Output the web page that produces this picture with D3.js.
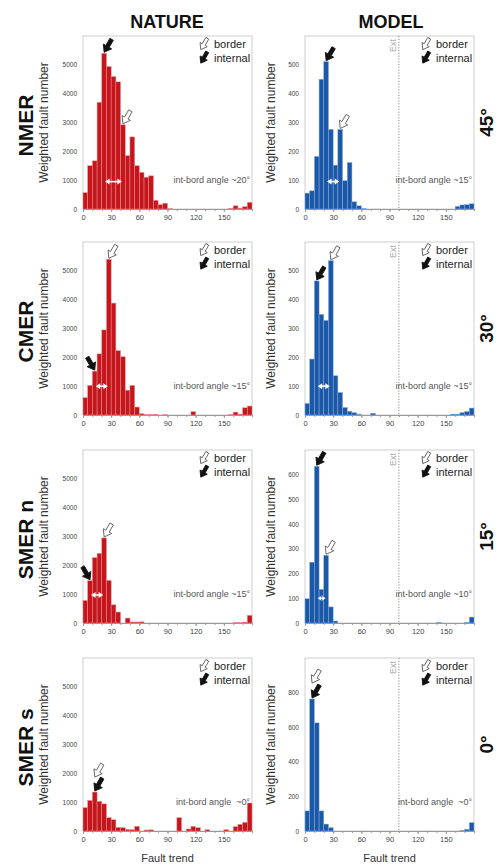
<!DOCTYPE html>
<html>
<head>
<meta charset="utf-8">
<script src="https://cdn.jsdelivr.net/npm/d3@7"></script>
<style>
body { margin: 0; background: #fff; }
svg { display: block; }
</style>
</head>
<body>
<div class="canvas"></div>
<script>
// 5 degree bins, 0..180
const binStarts = d3.range(0, 180, 5)

// weighted fault number per bin
const nmerNature = [565,1500,1670,3700,5400,4940,4590,4410,2920,1850,2500,1500,1270,1100,1150,300,150,200,10,0,0,0,0,0,0,0,0,0,0,0,0,20,110,30,80,230]
const nmerModel = [55,63,182,450,511,276,152,276,98,161,25,11,2,0,0,0,0,0,0,0,0,0,0,0,0,0,0,0,0,0,0,0,9,14,15,18]
const cmerNature = [600,1025,1520,2120,2950,5400,3880,2230,2020,860,1025,275,45,10,15,20,0,10,0,0,0,0,0,115,0,0,0,0,0,0,0,10,100,30,250,310]
const cmerModel = [40,194,465,349,328,535,136,78,26,13,8,3,0,0,6,0,0,0,0,0,0,0,0,0,0,0,0,0,0,0,0,3,3,8,12,24]
const smerNNature = [780,1465,2265,2415,2950,1475,630,380,0,170,35,35,40,0,0,0,0,0,0,0,0,0,0,0,0,0,0,0,0,0,0,0,15,15,30,265]
const smerNModel = [98,246,634,136,274,65,8,0,0,0,0,0,0,0,0,0,0,0,0,0,0,0,0,0,0,0,0,0,2,0,0,0,0,0,3,24]
const smerSNature = [810,1060,1350,1030,940,460,390,125,115,55,45,160,0,35,40,0,0,0,0,0,460,0,70,160,115,0,45,0,0,0,45,0,150,230,300,970]
const smerSModel = [116,763,625,116,40,19,0,0,0,0,0,0,0,0,0,0,0,0,0,0,0,0,0,0,0,0,0,0,0,0,0,0,0,3,10,48]

const rowNames = ["NMER", "CMER", "SMER n", "SMER s"]
const rowAngles = ["45°", "30°", "15°", "0°"]
const natureRows = [nmerNature, cmerNature, smerNNature, smerSNature]
const modelRows = [nmerModel, cmerModel, smerNModel, smerSModel]
const natureMax = [6000, 6000, 6000, 6000]
const natureStep = [1000, 1000, 1000, 1000]
const modelMax = [600, 600, 700, 1000]
const modelStep = [100, 100, 100, 200]
const natureAngle = ["int-bord angle ~20°", "int-bord angle ~15°", "int-bord angle ~15°", "int-bord angle  ~0°"]
const modelAngle = ["int-bord angle ~15°", "int-bord angle ~15°", "int-bord angle ~10°", "int-bord angle  ~0°"]
// arrows: [bin index, kind, direction in degrees, lift in px]
const natureArrows = [
  [[4, 'internal', 120, 0], [8, 'border', 120, 0]],
  [[2, 'internal', 60, 0], [5, 'border', 120, 0]],
  [[1, 'internal', 60, 0], [4, 'border', 120, 0]],
  [[2, 'internal', 120, 0], [2, 'border', 120, 14]]
]
const modelArrows = [
  [[4, 'internal', 120, 0], [7, 'border', 120, 0]],
  [[2, 'internal', 120, 0], [5, 'border', 120, 0]],
  [[2, 'internal', 120, 0], [4, 'border', 120, 0]],
  [[1, 'internal', 120, 0], [1, 'border', 120, 15]]
]
// double arrow between internal and border: [from deg, to deg, level]
const natureSpan = [[22.5, 42.5, 950], [12.5, 27.5, 1000], [7.5, 22.5, 970], null]
const modelSpan = [[22.5, 37.5, 95], [12.5, 27.5, 100], [12.5, 23, 100], null]
const extAngle = 100

const font = '"Liberation Sans", Arial, sans-serif'
const colX = [83, 305]
const rowY = [36, 242, 450, 658]
const plotW = 169, plotH = 173

const svg = d3.select('.canvas')
    .append('svg')
    .attr('width', 499)
    .attr('height', 866)
    .style('font-family', font)

const x = d3.scaleLinear().domain([0, 180]).range([0, plotW])

// block arrow pointing along +x with tip at origin
function arrowPath(len) {
    const hl = len * 0.45, hw = len * 0.32, sw = len * 0.13
    return `M0,0 L${-hl},${-hw} L${-hl},${-sw} L${-len},${-sw} L${-len},${sw} L${-hl},${sw} L${-hl},${hw} Z`
}

function drawArrow(g, tx, ty, kind, dir, len) {
    g.append('path')
        .attr('d', arrowPath(len))
        .attr('transform', `translate(${tx},${ty}) rotate(${dir})`)
        .attr('fill', kind == 'internal' ? '#111' : '#fff')
        .attr('stroke', kind == 'internal' ? '#111' : '#555')
        .attr('stroke-width', 0.8)
        .attr('stroke-linejoin', 'round')
}

function drawPanel(g, values, yMax, yStep, fill, edge, arrows, span, angleText, isModel) {
    const y = d3.scaleLinear().domain([0, yMax]).range([plotH, 0])

    g.append('rect')
        .attr('width', plotW).attr('height', plotH)
        .attr('fill', 'none').attr('stroke', '#c4c4c4').attr('stroke-width', 0.8)

    g.selectAll('rect.bar')
        .data(values)
        .enter().append('rect')
        .attr('class', 'bar')
        .attr('x', (d, i) => x(binStarts[i]))
        .attr('width', x(5) - x(0))
        .attr('y', d => y(d))
        .attr('height', d => plotH - y(d))
        .attr('fill', fill)
        .attr('stroke', edge)
        .attr('stroke-width', d => d > 0 ? 0.5 : 0)

    const yAxis = d3.axisLeft(y)
        .tickValues(d3.range(0, yMax, yStep))
        .tickSize(0).tickPadding(6)
        .tickFormat(d3.format('d'))
    const yg = g.append('g').call(yAxis)
    yg.select('.domain').remove()
    yg.selectAll('text').attr('font-size', 6.5).attr('fill', '#444').attr('font-family', font)

    const minor = d3.axisBottom(x).tickValues(d3.range(0, 181, 10)).tickSize(2).tickFormat('')
    const mg = g.append('g').attr('transform', `translate(0,${plotH})`).call(minor)
    mg.selectAll('line').attr('stroke', '#999')
    mg.select('.domain').attr('stroke', '#999')

    const xAxis = d3.axisBottom(x).tickValues(d3.range(0, 180, 30)).tickSize(3).tickPadding(3)
    const xg = g.append('g').attr('transform', `translate(0,${plotH})`).call(xAxis)
    xg.select('.domain').remove()
    xg.selectAll('line').attr('stroke', '#999')
    xg.selectAll('text').attr('font-size', 7.5).attr('fill', '#444').attr('font-family', font)

    if (isModel) {
        g.append('line')
            .attr('x1', x(extAngle)).attr('x2', x(extAngle))
            .attr('y1', 0).attr('y2', plotH)
            .attr('stroke', '#888').attr('stroke-width', 1)
            .attr('stroke-dasharray', '1.2,1.6')
        g.append('text')
            .attr('transform', `translate(${x(extAngle) - 3},3) rotate(-90)`)
            .attr('text-anchor', 'end')
            .attr('font-size', 9).attr('fill', '#aaa')
            .text('Ext')
    }

    if (span) {
        const x1 = x(span[0]) + 1, x2 = x(span[1]) - 1, sy = y(span[2])
        g.append('line')
            .attr('x1', x1 + 3).attr('x2', x2 - 3).attr('y1', sy).attr('y2', sy)
            .attr('stroke', '#fff').attr('stroke-width', 1.6)
        g.append('path')
            .attr('d', `M${x1},${sy} l4.5,-3 l0,6 Z M${x2},${sy} l-4.5,-3 l0,6 Z`)
            .attr('fill', '#fff')
    }

    arrows.forEach(a => {
        const i = a[0]
        const tx = x(binStarts[i] + 2.5)
        const ty = y(values[i]) - 1 - a[3]
        drawArrow(g, tx, ty, a[1], a[2], 15)
    })

    // legend
    const lx = plotW - 38
    const dirRad = 120 * Math.PI / 180
    ;[['border', 12], ['internal', 25.5]].forEach(l => {
        const cx = lx - 10, cy = l[1] - 4
        drawArrow(g, cx + Math.cos(dirRad) * 6.5, cy + Math.sin(dirRad) * 6.5, l[0], 120, 13)
        g.append('text')
            .attr('x', lx).attr('y', l[1])
            .attr('font-size', 11).attr('fill', '#222')
            .text(l[0])
    })

    g.append('text')
        .attr('x', plotW - 2).attr('y', plotH - 26)
        .attr('text-anchor', 'end')
        .attr('font-size', 9).attr('fill', '#555')
        .attr('xml:space', 'preserve')
        .text(angleText)
}

// column titles
;[['NATURE', 167], ['MODEL', 391]].forEach(t => {
    svg.append('text')
        .attr('x', t[1]).attr('y', 28)
        .attr('text-anchor', 'middle')
        .attr('font-size', 18).attr('font-weight', 'bold').attr('fill', '#111')
        .text(t[0])
})

rowY.forEach((top, r) => {
    const mid = top + plotH / 2
    svg.append('text')
        .attr('transform', `translate(33,${mid + 3}) rotate(-90)`)
        .attr('text-anchor', 'middle')
        .attr('font-size', 21).attr('font-weight', 'bold').attr('fill', '#111')
        .text(rowNames[r])
    svg.append('text')
        .attr('transform', `translate(493,${mid}) rotate(-90)`)
        .attr('text-anchor', 'middle')
        .attr('font-size', 19).attr('font-weight', 'bold').attr('fill', '#111')
        .text(rowAngles[r])

    ;[0, 1].forEach(c => {
        svg.append('text')
            .attr('transform', `translate(${colX[c] - (c == 0 ? 35 : 30)},${mid}) rotate(-90)`)
            .attr('text-anchor', 'middle')
            .attr('font-size', 12).attr('fill', '#333')
            .text('Weighted fault number')
    })

    const gN = svg.append('g').attr('transform', `translate(${colX[0]},${top})`)
    drawPanel(gN, natureRows[r], natureMax[r], natureStep[r], '#c4161c', '#ec8d8d', natureArrows[r], natureSpan[r], natureAngle[r], false)
    const gM = svg.append('g').attr('transform', `translate(${colX[1]},${top})`)
    drawPanel(gM, modelRows[r], modelMax[r], modelStep[r], '#1c58a8', '#83a9dc', modelArrows[r], modelSpan[r], modelAngle[r], true)
})

;[0, 1].forEach(c => {
    svg.append('text')
        .attr('x', colX[c] + plotW / 2).attr('y', 862)
        .attr('text-anchor', 'middle')
        .attr('font-size', 11).attr('fill', '#333')
        .text('Fault trend')
})
</script>
</body>
</html>
